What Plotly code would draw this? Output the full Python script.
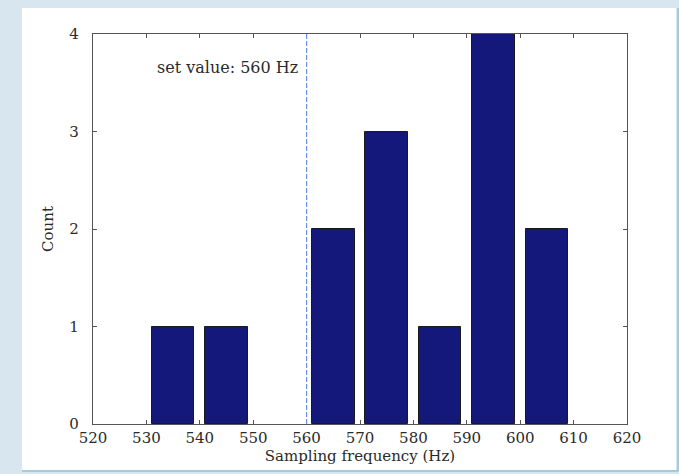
import plotly.graph_objects as go

bin_centers = [525, 535, 545, 555, 565, 575, 585, 595, 605, 615]
counts = [0, 1, 1, 0, 2, 3, 1, 4, 2, 0]
x_ticks = [520, 530, 540, 550, 560, 570, 580, 590, 600, 610, 620]
y_ticks = [0, 1, 2, 3, 4]
set_value = 560
set_label = "set value: 560 Hz"

# only bins with a non-zero count are drawn as bars
bar_x = [c for c, n in zip(bin_centers, counts) if n > 0]
bar_y = [n for n in counts if n > 0]

font = dict(family="DejaVu Serif, serif", size=15, color="#2a2a2a")

fig = go.Figure()
fig.add_trace(go.Bar(
    x=bar_x, y=bar_y, width=8,
    marker=dict(color="#14187a", line=dict(color="#1a1a1a", width=1)),
    hoverinfo="skip",
))

fig.add_vline(x=set_value, line=dict(color="#6e8fe6", width=1.2, dash="5px,2px"))

fig.add_annotation(x=set_value - 1.3, y=3.66, text=set_label, showarrow=False,
                   xanchor="right", yanchor="middle", font=dict(font, size=16))

# white panel over light-blue background
fig.add_shape(type="rect", xref="paper", yref="paper",
              x0=-0.133, x1=1.092, y0=-0.118, y1=1.0667,
              fillcolor="white", line=dict(width=0), layer="below")
fig.add_shape(type="line", xref="paper", yref="paper",
              x0=-0.133, x1=1.096, y0=-0.1205, y1=-0.1205,
              line=dict(color="#8fc3d2", width=1.5), layer="below")
fig.add_shape(type="line", xref="paper", yref="paper",
              x0=1.0955, x1=1.0955, y0=-0.1205, y1=1.0667,
              line=dict(color="#8fc3d2", width=1.5), layer="below")

axis_common = dict(showline=True, linecolor="#555", linewidth=1.3, mirror="ticks",
                   ticks="inside", ticklen=4, tickcolor="#555", showgrid=False,
                   zeroline=False, tickfont=font)

fig.update_xaxes(range=[520, 620], tickvals=x_ticks,
                 title=dict(text="Sampling frequency (Hz)", font=font, standoff=3),
                 **axis_common)
fig.update_yaxes(range=[0, 4], tickvals=y_ticks, ticklabelstandoff=10,
                 title=dict(text="Count", font=font, standoff=12),
                 **axis_common)

fig.update_layout(
    width=679, height=474,
    margin=dict(l=93, r=52, t=34, b=50),
    paper_bgcolor="#d8e6f0",
    plot_bgcolor="white",
    showlegend=False,
    bargap=0,
    font=font,
)

fig.write_html("out.html", config={"displayModeBar": False},
               post_script="document.body.style.margin='0';document.body.style.overflow='hidden';")
